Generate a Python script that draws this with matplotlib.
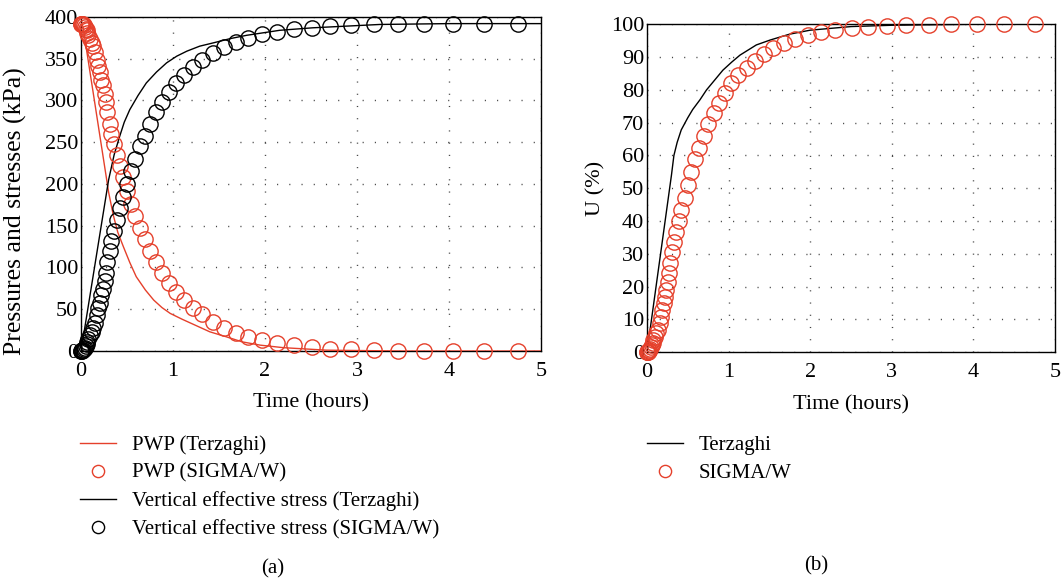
import matplotlib
matplotlib.use("Agg")
import matplotlib.pyplot as plt

plt.rcParams["font.family"] = ["Liberation Serif", "DejaVu Serif"]

RED = "#e5402b"

# Terzaghi solution
terz_t_stress = [0, 0.30, 0.36, 0.42, 0.47, 0.53, 0.62, 0.71, 0.82, 0.93, 1.04, 1.15,
                 1.29, 1.44, 1.62, 1.80, 2.16, 2.52, 3.25, 4.0, 5.0]
terz_stress = [0, 205, 235, 257, 274, 289, 306, 321, 334, 345, 353, 359,
               365, 369, 374, 378, 384, 387, 391, 392, 392]

terz_t_pwp = [0, 0.02, 0.30, 0.35, 0.40, 0.46, 0.53, 0.60, 0.70, 0.79, 0.88, 0.97,
              1.10, 1.22, 1.40, 1.58, 1.75, 1.95, 2.20, 2.67, 3.5, 5.0]
terz_pwp = [392, 389, 190, 163, 142, 125, 106, 89, 73, 61, 52, 45,
            38, 32, 23, 17, 11, 7, 4, 1, 0, 0]

terz_t_U = [0, 0.30, 0.33, 0.37, 0.42, 0.50, 0.56, 0.65, 0.73, 0.83, 0.93, 1.04, 1.14,
            1.34, 1.51, 1.75, 2.0, 2.5, 3.0, 4.0, 5.0]
terz_U = [0, 54, 60, 64, 67.8, 71.5, 74, 77, 80, 83, 86, 88.5, 90.6,
          93.7, 95.2, 97, 98.2, 99.3, 99.7, 100, 100]

# SIGMA/W results
sig_t = [0.000, 0.005, 0.010, 0.015, 0.020, 0.030, 0.040, 0.050, 0.060, 0.070, 0.080,
         0.094, 0.115, 0.135, 0.156, 0.176, 0.189, 0.205, 0.217, 0.238, 0.258, 0.270,
         0.287, 0.310, 0.331, 0.360, 0.390, 0.420, 0.460, 0.500, 0.545, 0.585, 0.638,
         0.696, 0.749, 0.818, 0.884, 0.953, 1.035, 1.117, 1.220, 1.320, 1.430, 1.550,
         1.680, 1.820, 1.970, 2.130, 2.310, 2.510, 2.710, 2.940, 3.180, 3.450, 3.730,
         4.040, 4.380, 4.750]
sig_U = [0.0, 0.0, 0.1, 0.2, 0.3, 0.6, 1.0, 1.5, 2.1, 2.8, 3.6,
         4.8, 5.8, 6.8, 8.8, 10.9, 12.9, 14.9, 17.0, 19.0, 21.5, 24.1,
         27.1, 30.7, 33.7, 36.8, 40.0, 43.5, 47.0, 51.0, 55.1, 58.8, 62.4,
         65.9, 69.5, 72.9, 75.9, 79.0, 82.0, 84.5, 86.8, 88.9, 91.0, 92.9,
         94.3, 95.6, 96.6, 97.5, 98.2, 98.8, 99.3, 99.6, 99.8, 99.9, 100,
         100, 100, 100]
sig_stress = [0, 0, 0, 1, 1, 2, 4, 6, 8, 11, 14,
              19, 23, 27, 34, 43, 51, 58, 67, 74, 84, 94,
              106, 120, 132, 144, 157, 171, 184, 200, 216, 230, 245,
              258, 272, 286, 298, 310, 321, 331, 340, 348, 357, 364,
              370, 375, 379, 382, 385, 387, 389, 390, 391, 392, 392,
              392, 392, 392]
sig_pwp = [392, 392, 392, 391, 391, 390, 388, 386, 384, 381, 378,
           373, 369, 365, 358, 349, 341, 334, 325, 318, 308, 298,
           286, 272, 260, 248, 235, 221, 208, 192, 176, 162, 147,
           134, 120, 106, 94, 82, 71, 61, 52, 44, 35, 28,
           22, 17, 13, 10, 7, 5, 3, 2, 1, 0, 0,
           0, 0, 0]

fs = 15
fig = plt.figure(figsize=(10.62, 5.78), dpi=100)
ax1 = fig.add_axes([0.0763, 0.3927, 0.4331, 0.578])
ax2 = fig.add_axes([0.6092, 0.3905, 0.3842, 0.5675])

mk = dict(linestyle="none", marker="o", markersize=11, markerfacecolor="none",
          markeredgewidth=1.0, clip_on=False, zorder=4)

ax1.plot(terz_t_pwp, terz_pwp, color=RED, lw=1.0, label="PWP (Terzaghi)", zorder=3)
ax1.plot(sig_t, sig_pwp, markeredgecolor=RED, label="PWP (SIGMA/W)", **mk)
ax1.plot(terz_t_stress, terz_stress, color="black", lw=1.0,
         label="Vertical effective stress (Terzaghi)", zorder=3)
ax1.plot(sig_t, sig_stress, markeredgecolor="black",
         label="Vertical effective stress (SIGMA/W)", **mk)
ax1.set_xlim(0, 5)
ax1.set_ylim(0, 400)
ax1.set_yticks(range(0, 401, 50))
ax1.set_ylabel("Pressures and stresses (kPa)", fontsize=18.5)
ax1.yaxis.set_label_coords(-0.118, 0.42)

ax2.plot(terz_t_U, terz_U, color="black", lw=1.0, label="Terzaghi", zorder=3)
ax2.plot(sig_t, sig_U, markeredgecolor=RED, label="SIGMA/W", **mk)
ax2.set_xlim(0, 5)
ax2.set_ylim(0, 100)
ax2.set_yticks(range(0, 101, 10))
ax2.set_ylabel("U (%)", fontsize=16)
ax2.yaxis.set_label_coords(-0.102, 0.5)

for ax in (ax1, ax2):
    ax.set_xticks(range(0, 6))
    ax.set_xlabel("Time (hours)", fontsize=16, labelpad=9)
    ax.tick_params(length=0, labelsize=16)
    ax.tick_params(axis="x", pad=8)
    ax.tick_params(axis="y", pad=2)
    ax.grid(True, color="#444444", lw=1.0, linestyle=(0, (0.8, 8)))
    for s in ax.spines.values():
        s.set_linewidth(1.0)

leg_kw = dict(frameon=False, fontsize=fs, borderpad=0, borderaxespad=0,
              handlelength=1.75, handletextpad=0.75, labelspacing=0.4, markerscale=0.8,
              loc="upper left", bbox_transform=fig.transFigure)
ax1.legend(bbox_to_anchor=(0.0753, 0.247), **leg_kw)
ax2.legend(bbox_to_anchor=(0.609, 0.246), **leg_kw)

fig.text(0.257, 0.016, "(a)", fontsize=fs, ha="center", va="center")
fig.text(0.769, 0.021, "(b)", fontsize=fs, ha="center", va="center")

fig.savefig("out.png", dpi=100)
